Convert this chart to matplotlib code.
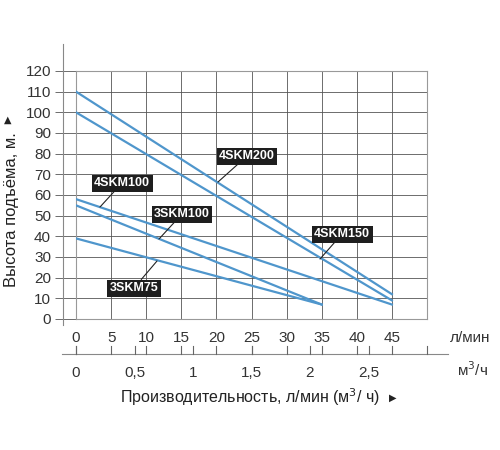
import matplotlib
matplotlib.use('Agg')
import matplotlib.pyplot as plt
from matplotlib.lines import Line2D

plt.rcParams['font.family'] = ['Liberation Sans', 'DejaVu Sans']

# pump curves: flow (l/min) -> head (m)
flow_45 = [0, 45]
flow_35 = [0, 35]
head_4skm200 = [110, 12]
head_4skm150 = [100, 9]
head_4skm100 = [58, 7]
head_3skm100 = [55, 7]
head_3skm75 = [39, 7]

x_ticks = [0, 5, 10, 15, 20, 25, 30, 35, 40, 45]
y_ticks = list(range(0, 121, 10))
m3h_ticks = [0, 0.5, 1, 1.5, 2, 2.5]
m3h_labels = ['0', '0,5', '1', '1,5', '2', '2,5']

W, H = 500, 450
fig = plt.figure(figsize=(5, 4.5), dpi=100)
L, R, B, T = 76, 427, 319, 71
ax = fig.add_axes([L / W, 1 - B / H, (R - L) / W, (B - T) / H])
ax.set_xlim(0, 50)
ax.set_ylim(0, 120)

blue = '#4f96cc'
for fx, hy in [(flow_45, head_4skm200), (flow_45, head_4skm150), (flow_45, head_4skm100),
               (flow_35, head_3skm100), (flow_35, head_3skm75)]:
    ax.plot(fx, hy, color=blue, lw=1.6, zorder=3)

ax.set_xticks(range(0, 51, 5))
ax.set_xticklabels([str(v) if v in x_ticks else '' for v in range(0, 51, 5)])
ax.set_yticks(y_ticks)
ax.grid(True, color='#555555', lw=0.6)
for s in ax.spines.values():
    s.set_color('#999999')
    s.set_linewidth(0.8)
ax.tick_params(axis='x', length=0, pad=9, labelsize=11, labelcolor='#333333')
ax.tick_params(axis='y', length=15, width=0.6, color='#555555', direction='out',
               pad=3, labelsize=11, labelcolor='#333333')

# left outer axis line
fig.add_artist(Line2D([63 / W, 63 / W], [1 - 44 / H, 1 - 325 / H], color='#888888', lw=0.8))

# second (m3/h) axis
ya, yt = 1 - 354 / H, 1 - 346 / H
fig.add_artist(Line2D([62 / W, 448 / W], [ya, ya], color='#888888', lw=0.8))
def fx_px(v):
    return L + v * (R - L) / 50
for v in range(0, 51, 5):
    p = fx_px(v) / W
    fig.add_artist(Line2D([p, p], [ya, yt], color='#666666', lw=0.8))
for v, lab in zip(m3h_ticks, m3h_labels):
    p = fx_px(v * 1000 / 60) / W
    fig.add_artist(Line2D([p, p], [ya, yt], color='#666666', lw=0.8))
    fig.text(p, 1 - 373 / H, lab, ha='center', va='center', fontsize=11, color='#333333')

fig.text(470 / W, 1 - 338 / H, 'л/мин', ha='center', va='center', fontsize=11, color='#333333')
fig.text(472 / W, 1 - 370 / H, 'м$^3$/ч', ha='center', va='center', fontsize=11, color='#333333')
fig.text(250 / W, 1 - 397 / H, 'Производительность, л/мин (м$^3$/ ч)', ha='center', va='center',
         fontsize=11.5, color='#222222')
fig.text(393 / W, 1 - 398 / H, '▶', ha='center', va='center', fontsize=7, color='#222222',
         family=['DejaVu Sans'])
fig.text(12 / W, 1 - 210 / H, 'Высота подъёма, м.', rotation=90, ha='center', va='center',
         fontsize=12, color='#222222')
fig.text(8 / W, 1 - 120 / H, '▲', ha='center', va='center', fontsize=7, color='#222222',
         family=['DejaVu Sans'])

def to_data(px, py):
    return ((px - L) * 50 / (R - L), (B - py) * 120 / (B - T))

labels = [('4SKM200', (247, 156), (218, 182)),
          ('4SKM100', (122, 183), (100, 207)),
          ('3SKM100', (182, 214), (159, 239)),
          ('3SKM75', (134, 288), (157, 261)),
          ('4SKM150', (342, 234), (320, 259))]
for name, box, tip in labels:
    ax.annotate(name, xy=to_data(*tip), xytext=to_data(*box), ha='center', va='center',
                fontsize=9, fontweight='bold', color='white', zorder=5,
                bbox=dict(boxstyle='square,pad=0.2', fc='#1e1e1e', ec='none'),
                arrowprops=dict(arrowstyle='-', color='#222222', lw=0.8, shrinkA=0, shrinkB=0))

fig.savefig('out.png', dpi=100)
